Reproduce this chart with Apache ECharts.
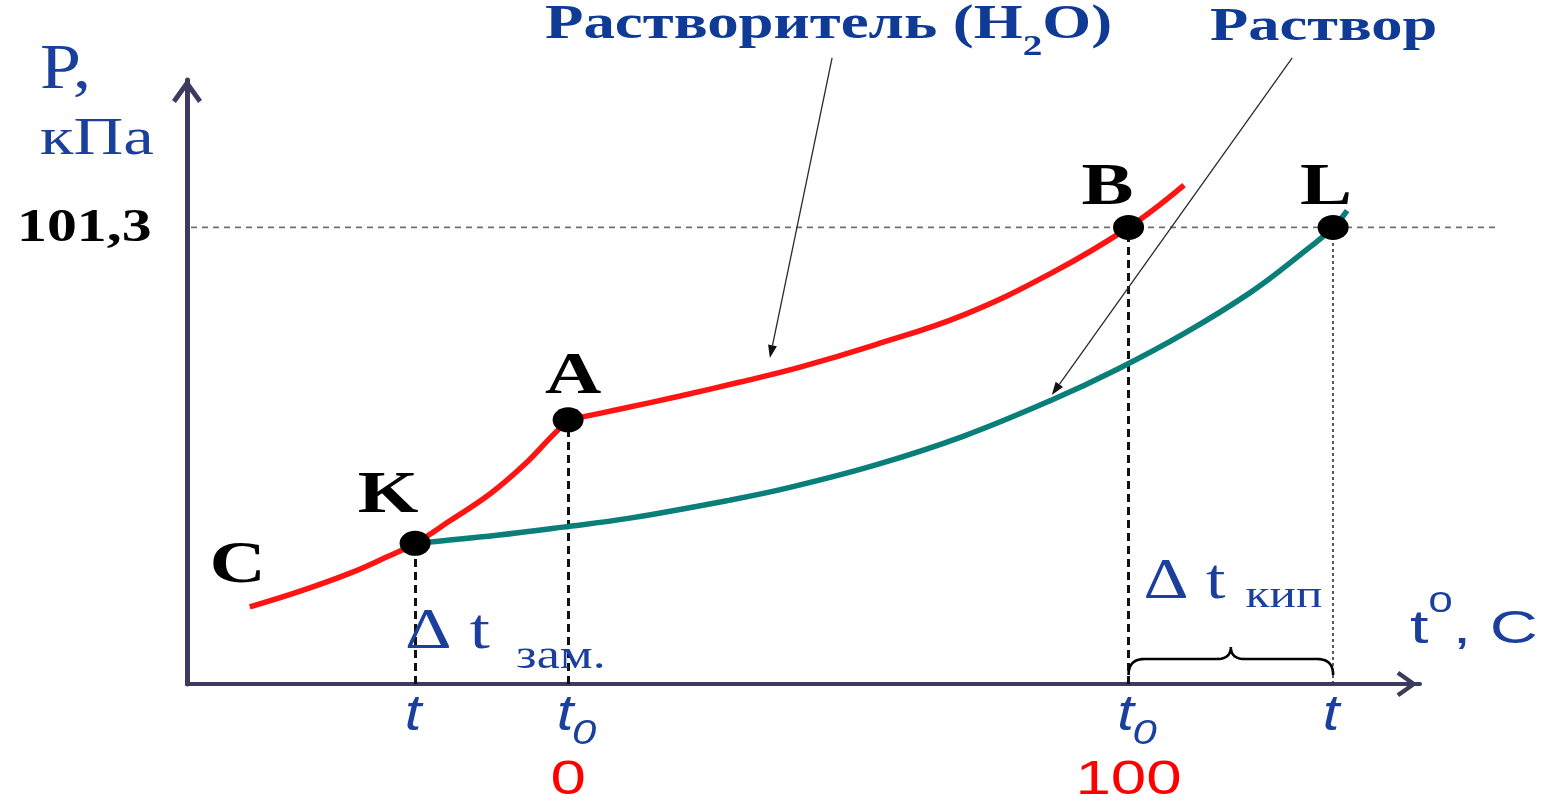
<!DOCTYPE html>
<html>
<head>
<meta charset="utf-8">
<script src="https://cdn.jsdelivr.net/npm/echarts@6/dist/echarts.min.js"></script>
<style>
  html, body { margin: 0; padding: 0; background: #ffffff; }
  #chart { width: 1554px; height: 802px; }
</style>
</head>
<body>
<div id="chart"></div>
<script>
// Vapour pressure of the pure solvent: ice branch C–K–A, then liquid branch A–B
const solventIce = [[-56.8, 17.1], [-47.8, 20.6], [-38.9, 24.6], [-32.7, 28.0], [-27.3, 31.2],
  [-21.1, 36.2], [-13.9, 42.2], [-7.7, 48.8], [-3.2, 54.6], [0, 58.6]];
const solventLiquid = [[0, 58.6], [9.3, 61.0], [20.0, 63.9], [30.7, 67.0], [41.4, 70.3],
  [54.9, 75.3], [70.6, 81.9], [86.3, 91.2], [100, 101.3], [109.9, 110.7]];
// Vapour pressure over the solution, starting at the freezing point K
const solution = [[-27.3, 31.2], [-12.7, 33.0], [-0.9, 34.8], [11.0, 36.8], [28.9, 40.8],
  [39.2, 43.5], [54.9, 48.6], [70.6, 55.0], [86.3, 63.0], [98.1, 69.9], [110.1, 77.9],
  [121.9, 87.0], [130.6, 95.2], [136.5, 101.3], [139.0, 105.0]];

// Characteristic points
const pointNames = ['K', 'A', 'B', 'L'];
const pointT = [-27.3, 0, 100, 136.5];
const pointP = [31.2, 58.6, 101.3, 101.3];

// Axis ticks
const tickValues = [-27.3, 0, 100, 136.5];
const tickSubs = ['', '0', '0', ''];
const tickCelsius = ['', '0', '100', ''];
const atmPressure = 101.3;
const atmLabel = '101,3';

// Leader lines from the captions to the curves (from, to)
const leaderSolvent = [[47.1, 138.9], [36.0, 72.3]];
const leaderSolution = [[129.2, 138.9], [86.3, 64.1]];

// ---- styling ----
const RED = '#ff1414';
const TEAL = '#0a7f79';
const AXIS = '#3c3b5e';
const BLUE = '#1a3f9c';
const BLUE_T = '#0f3a95';
const SERIF = '"Liberation Serif", "Times New Roman", serif';
const SANS = '"Liberation Sans", Arial, sans-serif';
const STRETCH = 1.3;
const guideRight = 165.4;   // right end of the 101,3 guide, in axis units
const chevron = 'path://M10,0 L20,14 L17.4,16 L10,5.6 L2.6,16 L0,14 Z';

const chart = echarts.init(document.getElementById('chart'), null, { renderer: 'canvas' });

const curve = (name, data, color) => ({
  name, type: 'line', data, smooth: 0.4, symbol: 'none', z: 3,
  lineStyle: { color, width: 5.5 }
});

const option = {
  animation: false,
  backgroundColor: '#ffffff',
  grid: { left: 187, right: 134, top: 80, bottom: 118 },
  xAxis: {
    type: 'value', min: -68, max: 152,
    axisLine: { show: true, onZero: false, symbol: ['none', chevron], symbolSize: [26, 28],
      symbolOffset: [0, -13], lineStyle: { color: AXIS, width: 4 } },
    axisTick: { show: false }, axisLabel: { show: false }, splitLine: { show: false }
  },
  yAxis: {
    type: 'value', min: 0, max: 134,
    axisLine: { show: true, onZero: false, symbol: ['none', chevron], symbolSize: [30, 24],
      symbolOffset: [0, -11], lineStyle: { color: AXIS, width: 5 } },
    axisTick: { show: false }, axisLabel: { show: false }, splitLine: { show: false }
  },
  series: [
    curve('Лёд', solventIce, RED),
    curve('Растворитель', solventLiquid, RED),
    curve('Раствор', solution, TEAL),
    {
      name: 'Точки', type: 'scatter', z: 6,
      data: pointT.map((t, i) => ({ name: pointNames[i], value: [t, pointP[i]] })),
      symbolSize: [31, 25], itemStyle: { color: '#000000', opacity: 1 },
      markLine: {
        silent: true, symbol: 'none', z: 2, label: { show: false },
        data: pointT.map((t, i) => [
          { coord: [t, 0], lineStyle: i === 3
              ? { color: '#333333', width: 1.6, type: [3, 3] }
              : { color: '#111111', width: 3, type: [8, 5] } },
          { coord: [t, pointP[i]] }
        ])
      }
    }
  ]
};
chart.setOption(option);

// ---- annotations placed through the grid's scales ----
function buildAnnotations() {
  const P = (x, y) => chart.convertToPixel({ gridIndex: 0 }, [x, y]);
  const g = [];

  const text = (x, y, str, o) => ({
    type: 'text', x, y, z: 30, scaleX: o.sx || STRETCH,
    style: {
      text: str, fill: o.color || '#000',
      fontFamily: o.family || SERIF, fontSize: o.size, fontWeight: o.weight || 'normal',
      fontStyle: o.style || 'normal',
      align: o.align || 'left', verticalAlign: 'middle', rich: o.rich
    }
  });

  // 101,3 guide line
  const gl = P(-68, atmPressure), gr = P(guideRight, atmPressure);
  g.push({ type: 'line', z: 1, shape: { x1: gl[0] + 4, y1: gl[1], x2: gr[0], y2: gr[1] },
    style: { stroke: '#707070', lineWidth: 1.8, lineDash: [6, 5] } });

  // leader lines with arrow heads
  [leaderSolvent, leaderSolution].forEach(([from, to]) => {
    const s = P(from[0], from[1]), e = P(to[0], to[1]);
    const dx = e[0] - s[0], dy = e[1] - s[1], len = Math.hypot(dx, dy);
    const ux = dx / len, uy = dy / len, hl = 13, hw = 4.5;
    const bx = e[0] - ux * hl, by = e[1] - uy * hl;
    g.push({ type: 'line', z: 8, shape: { x1: s[0], y1: s[1], x2: bx, y2: by },
      style: { stroke: '#2a2a2a', lineWidth: 1.3 } });
    g.push({ type: 'polygon', z: 8,
      shape: { points: [[e[0], e[1]], [bx - uy * hw, by + ux * hw], [bx + uy * hw, by - ux * hw]] },
      style: { fill: '#111111' } });
  });

  // brace over the boiling-point elevation
  const x1 = P(pointT[2], 0)[0], x2 = P(pointT[3], 0)[0], y0 = P(0, 0)[1];
  const xm = (x1 + x2) / 2, yb = y0 - 25;
  const pts = [];
  const quad = (p0, c, p1) => {
    for (let k = 0; k <= 12; k++) {
      const t = k / 12, u = 1 - t;
      pts.push([u * u * p0[0] + 2 * u * t * c[0] + t * t * p1[0], u * u * p0[1] + 2 * u * t * c[1] + t * t * p1[1]]);
    }
  };
  quad([x1, y0 - 9], [x1, yb], [x1 + 16, yb]);
  quad([xm - 14, yb], [xm, yb], [xm, yb - 12]);
  quad([xm, yb - 12], [xm, yb], [xm + 14, yb]);
  quad([x2 - 16, yb], [x2, yb], [x2, y0 - 9]);
  g.push({ type: 'polyline', z: 8, shape: { points: pts }, style: { stroke: '#000', lineWidth: 2.6, fill: null } });

  // point letters
  const letterOffsets = [[-27, -47], [5, -42], [-21, -39], [-7, -39]];
  pointT.forEach((t, i) => {
    const p = P(t, pointP[i]);
    g.push(text(p[0] + letterOffsets[i][0], p[1] + letterOffsets[i][1], pointNames[i],
      { size: 60, weight: 'bold', align: 'center' }));
  });
  const c0 = P(solventIce[0][0], solventIce[0][1]);
  g.push(text(c0[0] - 12, c0[1] - 40, 'C', { size: 60, weight: 'bold', align: 'center' }));

  // x tick labels: t, t0 and the Celsius values
  tickValues.forEach((v, i) => {
    const x = P(v, 0)[0];
    const hasSub = tickSubs[i] !== '';
    g.push(text(x + (hasSub ? -3 : -2), y0 + 32, 't',
      { family: SANS, size: 50, style: 'italic', color: BLUE, align: 'center', sx: 1.2 }));
    if (hasSub) {
      g.push(text(x + 16, y0 + 50, tickSubs[i],
        { family: SANS, size: 35, style: 'italic', color: BLUE, align: 'center', sx: 1.25 }));
    }
    if (tickCelsius[i]) {
      g.push(text(x, y0 + 96, tickCelsius[i], { family: SANS, size: 49, color: '#ff0000', align: 'center' }));
    }
  });

  // y tick label
  const yA = P(0, atmPressure)[1];
  g.push(text(17, yA + 2, atmLabel, { size: 46, weight: 'bold' }));

  // axis names
  g.push(text(40, 71, 'P,', { size: 64, color: BLUE, sx: 1.15 }));
  g.push(text(40, 140, 'кПа', { size: 53, color: BLUE }));
  g.push(text(1410, 621, '{a|t}{b|0}{a|, C}', {
    family: SANS, size: 46, color: BLUE, sx: 1.45,
    rich: {
      a: { fontFamily: SANS, fontSize: 46, fill: BLUE, lineHeight: 64, verticalAlign: 'bottom' },
      b: { fontFamily: SANS, fontSize: 30, fill: BLUE, lineHeight: 24, verticalAlign: 'top' }
    }
  }));

  // interval captions
  const xK = P(pointT[0], 0)[0];
  g.push(text(xK - 10, 633, 'Δ t', { size: 58, color: BLUE, sx: 1.25 }));
  g.push(text(xK + 101, 657, 'зам.', { size: 40, color: BLUE }));
  g.push(text(x1 + 15, 583, 'Δ t', { size: 56, color: BLUE, sx: 1.25 }));
  g.push(text(x1 + 117, 597, 'кип', { size: 38, color: BLUE }));

  // curve captions
  g.push(text(545, 32, '{a|Растворитель (H}{s|2}{a|O)}', {
    size: 48, weight: 'bold', color: BLUE_T, sx: 1.31,
    rich: {
      a: { fontFamily: SERIF, fontSize: 48, fontWeight: 'bold', fill: BLUE_T, lineHeight: 60, verticalAlign: 'top' },
      s: { fontFamily: SERIF, fontSize: 30, fontWeight: 'bold', fill: BLUE_T, lineHeight: 46, verticalAlign: 'bottom' }
    }
  }));
  g.push(text(1210, 28, 'Раствор', { size: 47, weight: 'bold', color: BLUE_T, sx: 1.33 }));

  chart.setOption({ graphic: { elements: g } });
}
buildAnnotations();
</script>
</body>
</html>
